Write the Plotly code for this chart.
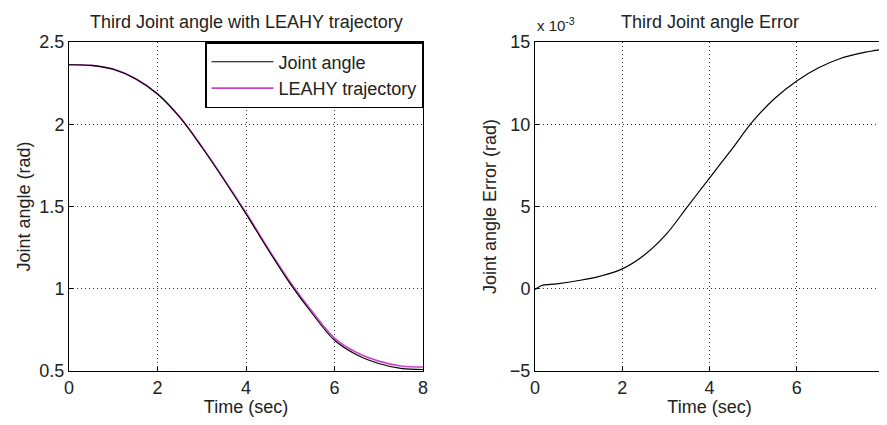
import plotly.graph_objects as go

# ---- data ----
time = [0, 0.5, 1, 1.5, 2, 2.5, 3, 3.5, 4, 4.5, 5, 5.5, 6, 6.5, 7, 7.5, 8]
leahy_traj = [2.362, 2.358, 2.335, 2.278, 2.185, 2.045, 1.865, 1.668, 1.462,
              1.245, 1.040, 0.860, 0.700, 0.612, 0.560, 0.530, 0.524]
joint_angle = [2.362, 2.358, 2.334, 2.277, 2.184, 2.043, 1.862, 1.663, 1.455,
               1.237, 1.030, 0.848, 0.687, 0.599, 0.546, 0.516, 0.509]

err_time = [0, 0.15, 0.5, 1, 1.5, 2, 2.5, 3, 3.5, 4, 4.5, 5, 5.5, 6, 6.5, 7, 7.5, 8]
err_e3 = [-0.05, 0.2, 0.3, 0.5, 0.77, 1.21, 2.04, 3.29, 5.01, 6.73, 8.44, 10.2,
          11.58, 12.63, 13.43, 14.0, 14.34, 14.57]

x_ticks = [0, 2, 4, 6, 8]
left_yticks = [0.5, 1, 1.5, 2, 2.5]
right_yticks = [-5, 0, 5, 10, 15]

FONT = "Liberation Sans, Arial, sans-serif"
FS = 18
TXT = "#222"
# page body has an 8px margin, so figure coords = page coords - 8
W, H = 879, 409
L, R, T, B = 61, 3, 34, 46
pw = W - L - R

def fx(px):
    return (px - L) / pw

LEFT_END = 415
RIGHT_START = 527

fig = go.Figure()

fig.add_trace(go.Scatter(x=time, y=leahy_traj, name="LEAHY trajectory", mode="lines",
                         line=dict(color="#c844c8", width=1.6, shape="spline"),
                         xaxis="x", yaxis="y", legendrank=2))
fig.add_trace(go.Scatter(x=time, y=joint_angle, name="Joint angle", mode="lines",
                         line=dict(color="black", width=1.1, shape="spline"),
                         xaxis="x", yaxis="y", legendrank=1))
fig.add_trace(go.Scatter(x=err_time, y=err_e3, name="Error", mode="lines", showlegend=False,
                         line=dict(color="black", width=1.2, shape="spline"),
                         xaxis="x2", yaxis="y2"))

axis_common = dict(showline=True, linecolor="black", linewidth=1, mirror=True,
                   showgrid=True, gridcolor="#333", griddash="1px,3px", gridwidth=1,
                   ticks="inside", ticklen=4, tickcolor="black", zeroline=False,
                   ticklabeloverflow="allow", automargin=False,
                   tickfont=dict(family=FONT, size=FS, color=TXT))

fig.update_layout(
    width=W, height=H,
    margin=dict(l=L, r=R, t=T, b=B, autoexpand=False),
    paper_bgcolor="white", plot_bgcolor="white",
    font=dict(family=FONT, size=FS, color=TXT),
    showlegend=True,
    legend=dict(x=fx(LEFT_END), xanchor="right", y=1, yanchor="top",
                bordercolor="black", borderwidth=1.5, bgcolor="white",
                font=dict(family=FONT, size=FS, color=TXT),
                itemwidth=62, tracegroupgap=0, traceorder="normal"),
    xaxis=dict(domain=[0, fx(LEFT_END)], range=[0, 8], tickvals=x_ticks, anchor="y",
               title=dict(text="Time (sec)", font=dict(family=FONT, size=FS, color=TXT), standoff=4),
               **axis_common),
    yaxis=dict(domain=[0, 1], range=[0.5, 2.5], tickvals=left_yticks, anchor="x",
               title=dict(text="Joint angle (rad)", font=dict(family=FONT, size=FS, color=TXT), standoff=4),
               **axis_common),
    xaxis2=dict(domain=[fx(RIGHT_START), 1], range=[0, 8], tickvals=x_ticks, anchor="y2",
                title=dict(text="Time (sec)", font=dict(family=FONT, size=FS, color=TXT), standoff=4),
                **axis_common),
    yaxis2=dict(domain=[0, 1], range=[-5, 15], tickvals=right_yticks, anchor="x2",
                title=dict(text="Joint angle Error (rad)", font=dict(family=FONT, size=FS, color=TXT), standoff=8),
                **axis_common),
    annotations=[
        dict(text="Third Joint angle with LEAHY trajectory", x=fx(LEFT_END) / 2, y=1.0,
             xref="paper", yref="paper", xanchor="center", yanchor="middle", yshift=20,
             showarrow=False, font=dict(family=FONT, size=FS, color=TXT)),
        dict(text="Third Joint angle Error", x=(fx(RIGHT_START) + 1) / 2, y=1.0,
             xref="paper", yref="paper", xanchor="center", yanchor="middle", yshift=20,
             showarrow=False, font=dict(family=FONT, size=FS, color=TXT)),
        dict(text="x 10<sup>-3</sup>", x=fx(RIGHT_START), y=1.0, xref="paper", yref="paper",
             xanchor="left", yanchor="middle", yshift=18, showarrow=False,
             font=dict(family=FONT, size=15, color=TXT)),
    ],
)

fig.write_html("out.html")
